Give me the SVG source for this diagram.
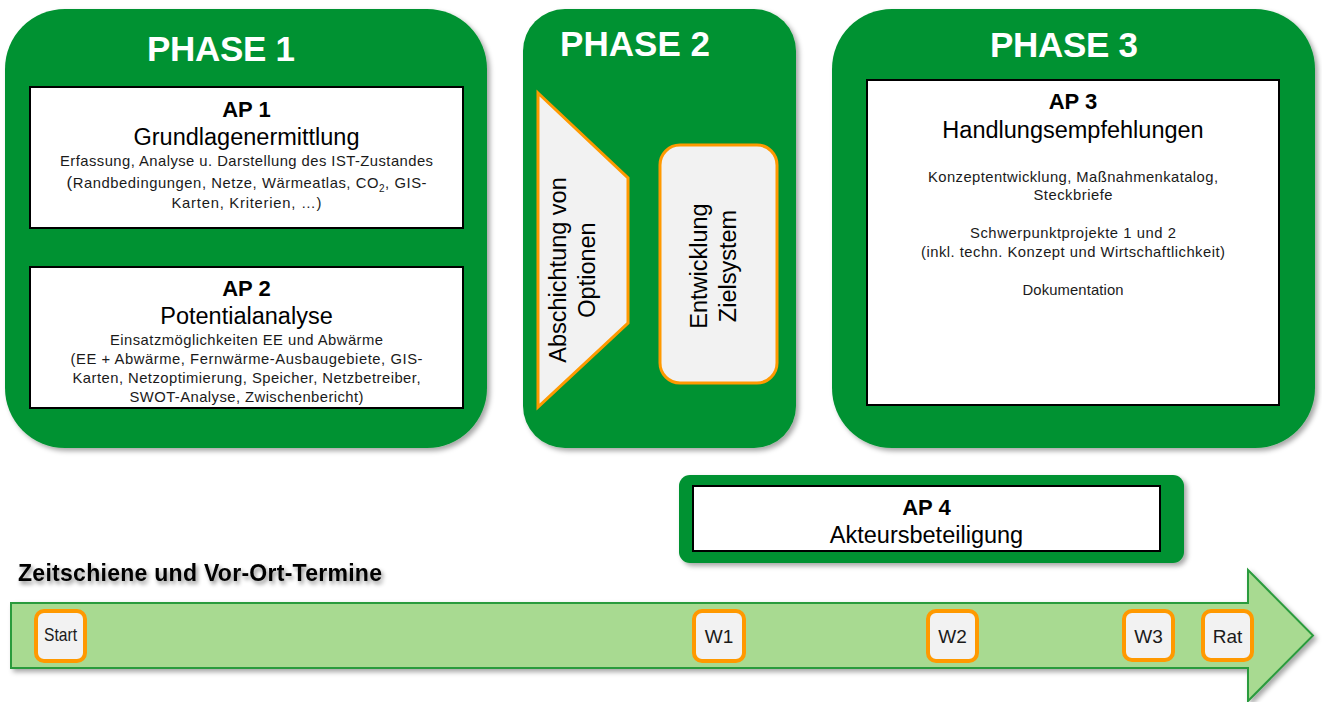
<svg xmlns="http://www.w3.org/2000/svg" width="1322" height="702" viewBox="0 0 1322 702">
  <defs>
    <filter id="shadow" x="-10%" y="-10%" width="125%" height="125%">
      <feDropShadow dx="3" dy="3" stdDeviation="2.5" flood-color="#000" flood-opacity="0.35"/>
    </filter>
    <filter id="textShadow" x="-5%" y="-30%" width="115%" height="170%">
      <feDropShadow dx="2" dy="3" stdDeviation="2" flood-color="#000" flood-opacity="0.45"/>
    </filter>
    <style>
      text { font-family: "Liberation Sans", Arial, sans-serif; fill: #000; }
      .phase { fill: #009231; }
      .phaseTitle { fill: #fff; font-size: 35px; font-weight: bold; text-anchor: middle; }
      .ap { fill: #fff; stroke: #000; stroke-width: 2; }
      .apHead { font-size: 22px; font-weight: bold; text-anchor: middle; }
      .apSub { font-size: 23.5px; text-anchor: middle; }
      .small { font-size: 14.8px; text-anchor: middle; fill: #1a1a1a; }
      .step { fill: #f2f2f2; stroke: #ff9900; stroke-width: 3; }
      .stepText { font-size: 23.5px; text-anchor: middle; }
      .ms { fill: #f2f2f2; stroke: #ff9900; stroke-width: 4; }
      .msText { font-size: 19px; text-anchor: middle; fill: #1a1a1a; }
    </style>
  </defs>

  <!-- Phase 1 -->
  <g id="phase1">
    <rect class="phase" x="5" y="9" width="482" height="439" rx="60" filter="url(#shadow)"/>
    <text class="phaseTitle" x="221" y="61" textLength="148">PHASE 1</text>
  </g>
  <g id="ap1">
    <rect class="ap" x="30" y="87" width="433" height="141"/>
    <text class="apHead" x="246.5" y="117">AP 1</text>
    <text class="apSub" x="246.5" y="145">Grundlagenermittlung</text>
    <text class="small" x="246.5" y="166" textLength="373">Erfassung, Analyse u. Darstellung des IST-Zustandes</text>
    <text class="small" x="246.5" y="188" textLength="360"><tspan font-size="17">(</tspan>Randbedingungen, Netze, Wärmeatlas, CO<tspan font-size="10" dy="4">2</tspan><tspan dy="-4">, GIS-</tspan></text>
    <text class="small" x="246.5" y="208" textLength="150">Karten, Kriterien, …)</text>
  </g>
  <g id="ap2">
    <rect class="ap" x="30" y="267" width="433" height="141"/>
    <text class="apHead" x="246.5" y="296">AP 2</text>
    <text class="apSub" x="246.5" y="324">Potentialanalyse</text>
    <text class="small" x="246.5" y="345" textLength="273">Einsatzmöglichkeiten EE und Abwärme</text>
    <text class="small" x="246.5" y="364" textLength="352">(EE + Abwärme, Fernwärme-Ausbaugebiete, GIS-</text>
    <text class="small" x="246.5" y="383" textLength="348">Karten, Netzoptimierung, Speicher, Netzbetreiber,</text>
    <text class="small" x="246.5" y="402" textLength="234">SWOT-Analyse, Zwischenbericht)</text>
  </g>

  <!-- Phase 2 -->
  <g id="phase2">
    <rect class="phase" x="523" y="9" width="273" height="439" rx="42" filter="url(#shadow)"/>
    <text class="phaseTitle" x="635" y="56" textLength="150">PHASE 2</text>
  </g>
  <g id="abschichtung">
    <polygon class="step" points="538,93 628,178 628,323 538,407"/>
    <text class="stepText" transform="translate(566,270) rotate(-90)">Abschichtung von</text>
    <text class="stepText" transform="translate(595,270) rotate(-90)">Optionen</text>
  </g>
  <g id="zielsystem">
    <rect class="step" x="660" y="145" width="117" height="238" rx="20"/>
    <text class="stepText" transform="translate(707,266) rotate(-90)">Entwicklung</text>
    <text class="stepText" transform="translate(736,266) rotate(-90)">Zielsystem</text>
  </g>

  <!-- Phase 3 -->
  <g id="phase3">
    <rect class="phase" x="832" y="9" width="483" height="439" rx="60" filter="url(#shadow)"/>
    <text class="phaseTitle" x="1064" y="57" textLength="148">PHASE 3</text>
  </g>
  <g id="ap3">
    <rect class="ap" x="867" y="80" width="412" height="325"/>
    <text class="apHead" x="1073" y="109">AP 3</text>
    <text class="apSub" x="1073" y="138">Handlungsempfehlungen</text>
    <text class="small" x="1073" y="182" textLength="290">Konzeptentwicklung, Maßnahmenkatalog,</text>
    <text class="small" x="1073" y="200" textLength="79">Steckbriefe</text>
    <text class="small" x="1073" y="238" textLength="206">Schwerpunktprojekte 1 und 2</text>
    <text class="small" x="1073" y="257" textLength="304">(inkl. techn. Konzept und Wirtschaftlichkeit)</text>
    <text class="small" x="1073" y="295" textLength="101">Dokumentation</text>
  </g>

  <!-- Cross-phase work package -->
  <g id="ap4">
    <rect class="phase" x="679" y="475" width="505" height="88" rx="11" filter="url(#shadow)"/>
    <rect class="ap" x="693" y="486" width="467" height="65"/>
    <text class="apHead" x="926.5" y="515">AP 4</text>
    <text class="apSub" x="926.5" y="543">Akteursbeteiligung</text>
  </g>

  <!-- Timeline -->
  <g id="timeline">
    <text x="18" y="581" font-size="23" font-weight="bold" textLength="364" filter="url(#textShadow)">Zeitschiene und Vor-Ort-Termine</text>
    <polygon points="11,603 1248,603 1248,570 1313,635.5 1248,701 1248,668 11,668" fill="#a8da91" stroke="#2c9b3e" stroke-width="2" filter="url(#shadow)"/>
  </g>

  <g id="connectors"/>

  <g id="ms-start">
    <rect class="ms" x="36" y="611" width="49" height="50" rx="8"/>
    <text class="msText" x="60.5" y="641" font-size="15" textLength="33" lengthAdjust="spacingAndGlyphs">Start</text>
  </g>
  <g id="ms-w1">
    <rect class="ms" x="694" y="611" width="50" height="50" rx="8"/>
    <text class="msText" x="719" y="643">W1</text>
  </g>
  <g id="ms-w2">
    <rect class="ms" x="928" y="611" width="49" height="50" rx="8"/>
    <text class="msText" x="952.5" y="643">W2</text>
  </g>
  <g id="ms-w3">
    <rect class="ms" x="1124" y="611" width="49" height="49" rx="8"/>
    <text class="msText" x="1148.5" y="643">W3</text>
  </g>
  <g id="ms-rat">
    <rect class="ms" x="1203" y="611" width="49" height="49" rx="8"/>
    <text class="msText" x="1227.5" y="643">Rat</text>
  </g>
</svg>
